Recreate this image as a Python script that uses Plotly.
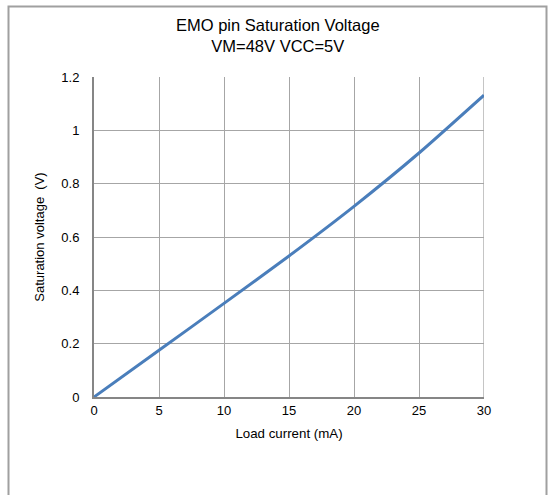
import plotly.graph_objects as go

load_current_ma = [0, 5, 10, 15, 20, 25, 30]
saturation_v = [0, 0.175, 0.351, 0.529, 0.715, 0.915, 1.132]

x_ticks = [0, 5, 10, 15, 20, 25, 30]
y_ticks = [0, 0.2, 0.4, 0.6, 0.8, 1.0, 1.2]
y_tick_text = ["0", "0.2", "0.4", "0.6", "0.8", "1", "1.2"]

title_lines = ["EMO pin Saturation Voltage", "VM=48V VCC=5V"]

FONT = "Liberation Sans, Arial, sans-serif"

fig = go.Figure()
fig.add_trace(go.Scatter(
    x=load_current_ma, y=saturation_v, mode="lines",
    line=dict(color="#4a7ebb", width=3, shape="spline", smoothing=0.6),
    showlegend=False, hoverinfo="skip"))

L, R, T, B = 94, 484, 77, 397
W, H = 553, 495
pw, ph = R - L, B - T

def px(x):
    return (x - L) / pw

def py(y):
    return (B - y) / ph

fig.update_layout(
    width=W, height=H,
    margin=dict(l=L, r=W - R, t=T, b=H - B, pad=0),
    paper_bgcolor="white", plot_bgcolor="white",
    font=dict(family=FONT, size=13, color="#000000"),
    annotations=[dict(
        text="<br>".join(title_lines), xref="paper", yref="paper",
        x=px(278), y=py(36), xanchor="center", yanchor="middle",
        showarrow=False, align="center",
        font=dict(family=FONT, size=16.5, color="#000000"))],
    xaxis=dict(range=[0, 30], tickvals=x_ticks, showgrid=True,
               gridcolor="#a6a6a6", gridwidth=1.3,
               showline=True, linecolor="#868686", linewidth=2,
               zeroline=False, ticks="", ticklen=0,
               tickfont=dict(family=FONT, size=13),
               title=dict(text="Load current (mA)", standoff=12,
                          font=dict(family=FONT, size=13.3)),
               fixedrange=True),
    yaxis=dict(range=[0, 1.2], tickvals=y_ticks, ticktext=y_tick_text,
               showgrid=True, gridcolor="#a6a6a6", gridwidth=1.3,
               showline=True, linecolor="#868686", linewidth=2,
               zeroline=False, ticks="outside", ticklen=10, tickcolor="rgba(0,0,0,0)",
               tickfont=dict(family=FONT, size=13),
               title=dict(text="Saturation voltage  (V)", standoff=14,
                          font=dict(family=FONT, size=13)),
               fixedrange=True),
    shapes=[
        # right edge grid line at x=30
        dict(type="line", xref="x", yref="paper", x0=30, x1=30, y0=0, y1=1,
             line=dict(color="#a6a6a6", width=1.3), layer="below"),
        # outer chart border
        dict(type="rect", xref="paper", yref="paper",
             x0=px(8.5), x1=px(546.5), y0=py(520), y1=py(6.5),
             line=dict(color="#a0a0a0", width=2), fillcolor="rgba(0,0,0,0)",
             layer="below"),
    ],
)

fig.write_html("out.html")
